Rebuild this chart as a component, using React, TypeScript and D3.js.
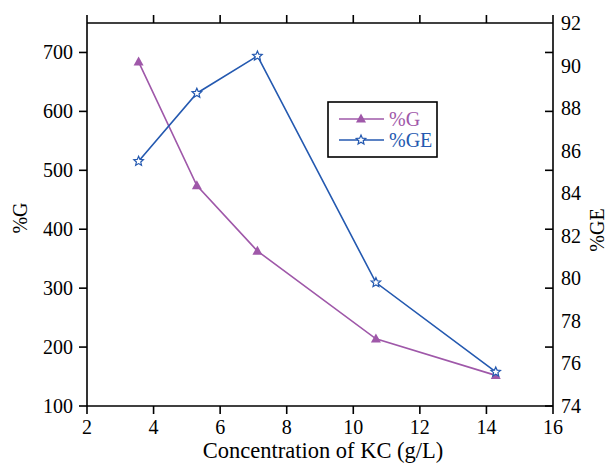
import React from "react";
import * as d3 from "d3";

// Concentration of KC (g/L)
const concentration = [3.55, 5.3, 7.12, 10.68, 14.28];
// %G values (left axis)
const gValues = [684, 474, 363, 214, 152];
// %GE values (right axis)
const geValues = [85.5, 88.7, 90.45, 79.8, 75.6];

const xTicks = [2, 4, 6, 8, 10, 12, 14, 16];
const leftTicks = [100, 200, 300, 400, 500, 600, 700];
const rightTicks = [74, 76, 78, 80, 82, 84, 86, 88, 90, 92];

const W = 608;
const H = 464;
const margin = { left: 87, right: 55, top: 23, bottom: 58 };

const purple = "#9f58a9";
const blue = "#2459b0";
const font = "'Liberation Serif', 'Times New Roman', serif";

function starPath(cx: number, cy: number, rOuter: number, rInner: number) {
  const pts: string[] = [];
  for (let i = 0; i < 10; i++) {
    const r = i % 2 === 0 ? rOuter : rInner;
    const a = -Math.PI / 2 + (i * Math.PI) / 5;
    pts.push(`${cx + r * Math.cos(a)},${cy + r * Math.sin(a)}`);
  }
  return `M${pts.join("L")}Z`;
}

function triPath(cx: number, cy: number, s: number) {
  const h = s * 0.9;
  return `M${cx},${cy - h * 0.6}L${cx + s / 2},${cy + h * 0.4}L${cx - s / 2},${cy + h * 0.4}Z`;
}

export default function App() {
  const x0 = margin.left;
  const x1 = W - margin.right;
  const y0 = H - margin.bottom;
  const y1 = margin.top;

  const x = d3.scaleLinear().domain([2, 16]).range([x0, x1]);
  const yL = d3.scaleLinear().domain([100, 750]).range([y0, y1]);
  const yR = d3.scaleLinear().domain([74, 92]).range([y0, y1]);

  const gLine = d3
    .line<number>()
    .x((_, i) => x(concentration[i]))
    .y((d) => yL(d));
  const geLine = d3
    .line<number>()
    .x((_, i) => x(concentration[i]))
    .y((d) => yR(d));

  const tick = 8;
  const axisStroke = { stroke: "#000", strokeWidth: 1.6 };

  return (
    <svg width={W} height={H} style={{ display: "block", position: "absolute", left: 0, top: 0 }} fontFamily={font}>
      <rect width={W} height={H} fill="#fff" />
      {/* frame */}
      <line x1={x0} y1={y0} x2={x1} y2={y0} {...axisStroke} />
      <line x1={x0} y1={y1} x2={x1} y2={y1} {...axisStroke} />
      <line x1={x0} y1={y0} x2={x0} y2={y1} {...axisStroke} />
      <line x1={x1} y1={y0} x2={x1} y2={y1} {...axisStroke} />

      {/* bottom and top ticks */}
      {xTicks.map((t) => (
        <g key={`x${t}`}>
          <line x1={x(t)} x2={x(t)} y1={y0} y2={y0 + tick} {...axisStroke} />
          <line x1={x(t)} x2={x(t)} y1={y1} y2={y1 - tick} {...axisStroke} />
          <text x={x(t)} y={y0 + 28} textAnchor="middle" fontSize={20}>
            {t}
          </text>
        </g>
      ))}

      {/* left ticks, mirrored on the right axis */}
      {leftTicks.map((t) => (
        <g key={`l${t}`}>
          <line x1={x0 - tick} x2={x0} y1={yL(t)} y2={yL(t)} {...axisStroke} />
          <line x1={x1 - tick} x2={x1} y1={yL(t)} y2={yL(t)} {...axisStroke} />
          <text x={x0 - 14} y={yL(t)} dy="0.35em" textAnchor="end" fontSize={20}>
            {t}
          </text>
        </g>
      ))}

      {/* right axis labels */}
      {rightTicks.map((t) => (
        <text key={`r${t}`} x={x1 + 8} y={yR(t)} dy="0.35em" textAnchor="start" fontSize={20}>
          {t}
        </text>
      ))}

      {/* axis titles */}
      <text transform={`translate(27,${218}) rotate(-90)`} textAnchor="middle" fontSize={20}>
        %G
      </text>
      <text transform={`translate(604,${230}) rotate(-90)`} textAnchor="middle" fontSize={20}>
        %GE
      </text>
      <text x={323} y={458} textAnchor="middle" fontSize={22.5}>
        Concentration of KC (g/L)
      </text>

      {/* %G series */}
      <path d={gLine(gValues) ?? ""} fill="none" stroke={purple} strokeWidth={1.6} />
      {gValues.map((v, i) => (
        <path key={`g${i}`} d={triPath(x(concentration[i]), yL(v), 10)} fill={purple} />
      ))}

      {/* %GE series */}
      <path d={geLine(geValues) ?? ""} fill="none" stroke={blue} strokeWidth={1.6} />
      {geValues.map((v, i) => (
        <path
          key={`ge${i}`}
          d={starPath(x(concentration[i]), yR(v), 5, 2.3)}
          fill="#fff"
          stroke={blue}
          strokeWidth={1.2}
        />
      ))}

      {/* legend */}
      <rect x={328} y={102} width={109} height={55} fill="#fff" stroke="#000" strokeWidth={1.6} />
      <line x1={339} x2={384} y1={119} y2={119} stroke={purple} strokeWidth={1.6} />
      <path d={triPath(361, 119, 10)} fill={purple} />
      <text x={389} y={119} dy="0.35em" fontSize={20} fill={purple}>
        %G
      </text>
      <line x1={339} x2={384} y1={140} y2={140} stroke={blue} strokeWidth={1.6} />
      <path d={starPath(361, 140, 5, 2.3)} fill="#fff" stroke={blue} strokeWidth={1.2} />
      <text x={389} y={140} dy="0.35em" fontSize={20} fill={blue}>
        %GE
      </text>
    </svg>
  );
}
